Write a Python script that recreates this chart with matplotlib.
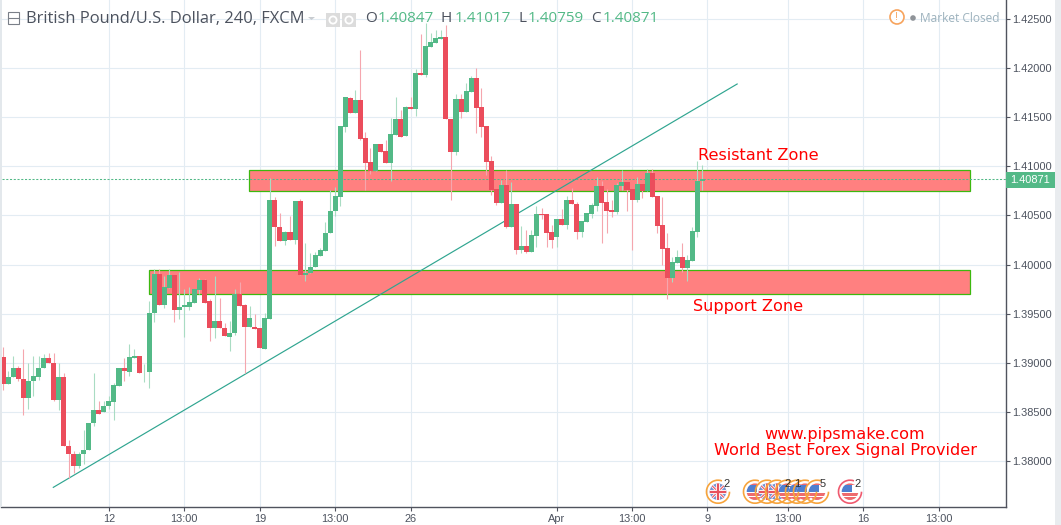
import matplotlib
matplotlib.use("Agg")
import matplotlib.pyplot as plt
from matplotlib.patches import Circle, Rectangle, Arc
import numpy as np

plt.rcParams['font.family'] = ['Liberation Sans', 'DejaVu Sans']

opens = [
    1.39064, 1.38789, 1.38857, 1.38942, 1.38836, 1.38646, 1.38816, 1.38860, 1.38945, 1.39044,
    1.39000, 1.38626, 1.38860, 1.38156, 1.38075, 1.37952, 1.38068, 1.38109, 1.38384, 1.38524,
    1.38503, 1.38558, 1.38605, 1.38768, 1.38942, 1.38911, 1.39044, 1.39074, 1.38904, 1.38904,
    1.39503, 1.39901, 1.39584, 1.39765, 1.39890, 1.39533, 1.39564, 1.39571, 1.39612, 1.39741,
    1.39839, 1.39625, 1.39350, 1.39421, 1.39357, 1.39265, 1.39299, 1.39697, 1.39584, 1.39360,
    1.39360, 1.39350, 1.39142, 1.39450, 1.40662, 1.40380, 1.40237, 1.40336, 1.40254, 1.40649,
    1.39894, 1.39911, 1.39972, 1.40091, 1.40142, 1.40319, 1.40543, 1.40689, 1.41397, 1.41695,
    1.41546, 1.41675, 1.41288, 1.41044, 1.40955, 1.41227, 1.41155, 1.41037, 1.41322, 1.41481,
    1.41308, 1.41603, 1.41586, 1.41949, 1.41932, 1.42218, 1.42255, 1.42299, 1.42316, 1.41478,
    1.41149, 1.41685, 1.41552, 1.41756, 1.41899, 1.41603, 1.41410, 1.41054, 1.40765, 1.40626,
    1.40809, 1.40379, 1.40616, 1.40151, 1.40188, 1.40131, 1.40290, 1.40514, 1.40514, 1.40328,
    1.40280, 1.40463, 1.40402, 1.40657, 1.40613, 1.40331, 1.40433, 1.40514, 1.40599, 1.40799,
    1.40636, 1.40555, 1.40535, 1.40799, 1.40840, 1.40769, 1.40657, 1.40820, 1.40748, 1.40932,
    1.40697, 1.40402, 1.40168, 1.39863, 1.40019, 1.40077, 1.39965, 1.40039, 1.40331, 1.40847,
]
highs = [
    1.39163, 1.38915, 1.39074, 1.38966, 1.39136, 1.39000, 1.39068, 1.39068, 1.39085, 1.39095,
    1.39102, 1.38993, 1.38898, 1.38218, 1.38099, 1.38088, 1.38313, 1.38388, 1.38898, 1.38615,
    1.38615, 1.38660, 1.38796, 1.38942, 1.39050, 1.39187, 1.39136, 1.39074, 1.38983, 1.39629,
    1.39952, 1.39952, 1.39884, 1.39958, 1.39890, 1.39924, 1.39748, 1.39775, 1.39754, 1.39867,
    1.39850, 1.39650, 1.39884, 1.39663, 1.39408, 1.39425, 1.39748, 1.39822, 1.39595, 1.39578,
    1.39493, 1.39350, 1.39510, 1.40883, 1.40689, 1.40526, 1.40346, 1.40492, 1.40649, 1.40672,
    1.40220, 1.40118, 1.40125, 1.40170, 1.40431, 1.40757, 1.40791, 1.41407, 1.41703, 1.41702,
    1.41776, 1.42184, 1.41352, 1.41183, 1.41227, 1.41227, 1.41267, 1.41488, 1.41709, 1.41573,
    1.41614, 1.41709, 1.41990, 1.42346, 1.42455, 1.42353, 1.42387, 1.42387, 1.42438, 1.41478,
    1.41736, 1.41736, 1.41844, 1.41919, 1.41997, 1.41793, 1.41410, 1.41105, 1.40765, 1.40860,
    1.40962, 1.40837, 1.40616, 1.40392, 1.40351, 1.40351, 1.40596, 1.40572, 1.40514, 1.40402,
    1.40463, 1.40562, 1.40697, 1.40775, 1.40640, 1.40443, 1.40524, 1.40623, 1.40887, 1.40854,
    1.40765, 1.40657, 1.40826, 1.40962, 1.40840, 1.40769, 1.40894, 1.40820, 1.40969, 1.40969,
    1.40697, 1.40691, 1.40324, 1.40080, 1.40148, 1.40222, 1.40097, 1.40385, 1.41054, 1.41017,
]
lows = [
    1.38721, 1.38789, 1.38857, 1.38813, 1.38466, 1.38534, 1.38666, 1.38823, 1.38945, 1.38996,
    1.38609, 1.38524, 1.38150, 1.37827, 1.37878, 1.37929, 1.37973, 1.38109, 1.38354, 1.38483,
    1.38503, 1.38530, 1.38415, 1.38768, 1.38813, 1.38864, 1.39044, 1.38901, 1.38802, 1.38748,
    1.39414, 1.39584, 1.39561, 1.39765, 1.39414, 1.39442, 1.39261, 1.39537, 1.39612, 1.39697,
    1.39612, 1.39221, 1.39251, 1.39350, 1.39268, 1.39119, 1.39278, 1.39578, 1.38891, 1.39360,
    1.39343, 1.39146, 1.39136, 1.39450, 1.40186, 1.40237, 1.40203, 1.40254, 1.40213, 1.39894,
    1.39833, 1.39911, 1.39972, 1.40091, 1.40142, 1.40319, 1.40492, 1.40594, 1.41349, 1.41546,
    1.41546, 1.41267, 1.40759, 1.40921, 1.40955, 1.41149, 1.41037, 1.40850, 1.41322, 1.41298,
    1.41308, 1.41586, 1.41512, 1.41932, 1.41905, 1.42218, 1.42255, 1.42299, 1.41478, 1.40657,
    1.41115, 1.41488, 1.41552, 1.41756, 1.41335, 1.41301, 1.40911, 1.40708, 1.40606, 1.40626,
    1.40368, 1.40379, 1.40110, 1.40121, 1.40121, 1.40131, 1.40182, 1.40460, 1.40175, 1.40165,
    1.40182, 1.40402, 1.40358, 1.40613, 1.40263, 1.40284, 1.40433, 1.40470, 1.40545, 1.40216,
    1.40324, 1.40487, 1.40514, 1.40759, 1.40548, 1.40148, 1.40640, 1.40674, 1.40748, 1.40684,
    1.40324, 1.39995, 1.39652, 1.39822, 1.40019, 1.39927, 1.39832, 1.40039, 1.40284, 1.40759,
]
closes = [
    1.38789, 1.38857, 1.38942, 1.38833, 1.38646, 1.38816, 1.38870, 1.38952, 1.39044, 1.38996,
    1.38626, 1.38860, 1.38150, 1.38068, 1.37952, 1.38075, 1.38116, 1.38388, 1.38524, 1.38483,
    1.38564, 1.38615, 1.38775, 1.38942, 1.38915, 1.39054, 1.39074, 1.38901, 1.38908, 1.39510,
    1.39901, 1.39584, 1.39768, 1.39890, 1.39533, 1.39571, 1.39584, 1.39615, 1.39748, 1.39839,
    1.39612, 1.39350, 1.39421, 1.39350, 1.39268, 1.39306, 1.39697, 1.39578, 1.39360, 1.39452,
    1.39343, 1.39146, 1.39459, 1.40662, 1.40380, 1.40237, 1.40336, 1.40254, 1.40649, 1.39894,
    1.39918, 1.39979, 1.40101, 1.40152, 1.40326, 1.40550, 1.40693, 1.41407, 1.41703, 1.41546,
    1.41675, 1.41278, 1.41037, 1.40955, 1.41227, 1.41149, 1.41037, 1.41329, 1.41481, 1.41298,
    1.41603, 1.41586, 1.41946, 1.41932, 1.42224, 1.42262, 1.42306, 1.42316, 1.41478, 1.41149,
    1.41685, 1.41552, 1.41766, 1.41899, 1.41597, 1.41403, 1.41044, 1.40759, 1.40626, 1.40809,
    1.40379, 1.40616, 1.40151, 1.40188, 1.40131, 1.40297, 1.40514, 1.40507, 1.40324, 1.40250,
    1.40463, 1.40402, 1.40657, 1.40613, 1.40334, 1.40443, 1.40524, 1.40606, 1.40799, 1.40630,
    1.40548, 1.40535, 1.40809, 1.40840, 1.40759, 1.40657, 1.40820, 1.40748, 1.40932, 1.40691,
    1.40392, 1.40158, 1.39863, 1.40026, 1.40077, 1.39965, 1.40046, 1.40341, 1.40854, 1.40871,
]

price_ticks = [1.38, 1.385, 1.39, 1.395, 1.40, 1.405, 1.41, 1.415, 1.42, 1.425]
date_ticks = [21, 36, 51, 66, 81, 110, 125, 140, 156, 171, 186]
date_labels = ["12", "13:00", "19", "13:00", "26", "Apr", "13:00", "9", "13:00", "16", "13:00"]

# zones: x from, x to, price low, price high
resistance_zone = [48.9, 192.1, 1.40744, 1.40958]
support_zone = [28.9, 192.1, 1.39697, 1.39941]
trend_x = [9.94, 145.9]
trend_y = [1.37732, 1.41838]
last_price = 1.40871

UP = "#53b987"
DOWN = "#eb4d5c"
W, H = 1061, 525

fig = plt.figure(figsize=(W / 100, H / 100), dpi=100, facecolor="white")
ax = fig.add_axes([1.5 / W, 1 - 507 / H, 1004 / W, 507 / H])

opens_a = np.array(opens)
closes_a = np.array(closes)
x = np.arange(len(opens))
up = closes_a >= opens_a
colors = np.where(up, UP, DOWN)

ax.set_xlim(-0.36, 199.25)
ax.set_ylim(1.37532, 1.42693)

ax.set_axisbelow(True)
ax.grid(True, color="#e3ecf3", lw=0.8)

for z in (resistance_zone, support_zone):
    ax.add_patch(Rectangle((z[0], z[2]), z[1] - z[0], z[3] - z[2], fc="#ff8080",
                           ec="#3cb80e", lw=0.9, zorder=2))

ax.plot(trend_x, trend_y, color="#2fa590", lw=0.85, zorder=3)
ax.axhline(last_price, color=UP, lw=0.75, ls=(0, (2, 1.6)), zorder=3)

wick_colors = np.where(up, "#a9dcc3", "#f5a6ae")
ax.vlines(x, lows, highs, colors=wick_colors, lw=0.8, zorder=4)
heights = np.maximum(np.abs(closes_a - opens_a), 0.00006)
ax.bar(x, heights, bottom=np.minimum(opens_a, closes_a), width=1.0, color=colors, lw=0, zorder=5)

for s in ("top", "left"):
    ax.spines[s].set_visible(False)
for s in ("right", "bottom"):
    ax.spines[s].set_color("#50535e")
    ax.spines[s].set_linewidth(1.0)
ax.yaxis.tick_right()
ax.set_yticks(price_ticks)
ax.set_yticklabels(["%.5f" % p for p in price_ticks])
ax.set_xticks(date_ticks)
ax.set_xticklabels(date_labels)
ax.tick_params(axis="both", length=3, width=0.8, color="#50535e", labelcolor="#4c525e",
               labelsize=7.9, pad=2)

# overlay in pixels for the chart furniture
ov = fig.add_axes([0, 0, 1, 1], zorder=10)
ov.set_xlim(0, W)
ov.set_ylim(H, 0)
ov.axis("off")

ov.add_patch(Rectangle((1055, 0), 6, H, fc="#e9ecef", lw=0))
ov.add_patch(Rectangle((0, 0), 1.5, 507, fc="#e3e8ec", lw=0))
ov.add_patch(Rectangle((1005.5, 172), 49.5, 16, fc=UP, lw=0))
ov.text(1030.5, 180.3, "%.5f" % last_price, color="white", fontsize=7.9, ha="center", va="center")

# legend row
head = "Open Sans"
ov.add_patch(Rectangle((7.5, 12), 11.5, 11.5, fc="white", ec="#7a7f88", lw=0.8))
ov.plot([8, 19], [17.7, 17.7], color="#7a7f88", lw=0.8)
ov.text(26, 19, "British Pound/U.S. Dollar, 240, FXCM", color="#4c525e", fontsize=11.9,
        family=head, ha="left", va="center")
ov.fill([308, 315, 311.5], [17, 17, 20], color="#c8ccd0", lw=0)
for bx in (326, 342):
    ov.add_patch(Rectangle((bx, 13), 14, 14, fc="#dcdcdc", lw=0))
    ov.add_patch(Circle((bx + 7, 20), 3.6, fc="none", ec="white", lw=1.3))
for lab, val, lx, vx in (("O", "1.40847", 365, 378), ("H", "1.41017", 441, 455),
                         ("L", "1.40759", 518, 528), ("C", "1.40871", 591, 603)):
    ov.text(lx, 19, lab, color="#4c525e", fontsize=11, family=head, ha="left", va="center")
    ov.text(vx, 19, val, color=UP, fontsize=11, family=head, ha="left", va="center")

ov.add_patch(Circle((897, 17), 7, fc="white", ec="#f7a35c", lw=1.2))
ov.text(897, 17, "!", color="#f7a35c", fontsize=8, ha="center", va="center")
ov.add_patch(Circle((913, 18), 2.8, fc="#8f9398", lw=0))
ov.text(920, 18, "Market Closed", color="#9db2bd", fontsize=8.6, family=head, ha="left", va="center")

# annotations
red = "#ff0000"
ov.text(698, 155, "Resistant Zone", color=red, fontsize=11.6, family="DejaVu Sans", ha="left", va="center")
ov.text(693, 307, "Support Zone", color=red, fontsize=11.6, family="DejaVu Sans", ha="left", va="center")
ov.text(845, 434, "www.pipsmake.com", color=red, fontsize=11.6, family="DejaVu Sans", ha="center", va="center")
ov.text(845.5, 450, "World Best Forex Signal Provider", color=red, fontsize=11.6, family="DejaVu Sans",
        ha="center", va="center")


def flag(cx, cy, kind, edge):
    clip = Circle((cx, cy), 8.3, transform=ov.transData)
    if kind == "us":
        parts = [Rectangle((cx - 9, cy - 9), 18, 18, fc="white", lw=0),
                 Rectangle((cx - 9, cy + 1), 18, 3, fc="#ee6b6e", lw=0),
                 Rectangle((cx - 9, cy + 5), 18, 4, fc="#ee6b6e", lw=0),
                 Rectangle((cx - 9, cy - 9), 18, 2.5, fc="#ee6b6e", lw=0),
                 Rectangle((cx - 9, cy - 7), 11, 7.5, fc="#4f7fd0", lw=0)]
    else:
        parts = [Rectangle((cx - 9, cy - 9), 18, 18, fc="#6f8fd0", lw=0)]
    for p in parts:
        p.set_zorder(11)
        ov.add_patch(p)
        p.set_clip_path(clip)
    if kind == "uk":
        for dx0, dy0, dx1, dy1, c, w in ((-8, -8, 8, 8, "white", 2), (-8, 8, 8, -8, "white", 2),
                                         (-8, -8, 8, 8, "#e8525e", 0.8), (-8, 8, 8, -8, "#e8525e", 0.8),
                                         (-9, 0, 9, 0, "white", 3), (0, -9, 0, 9, "white", 3),
                                         (-9, 0, 9, 0, "#e8525e", 1.6), (0, -9, 0, 9, "#e8525e", 1.6)):
            ln, = ov.plot([cx + dx0, cx + dx1], [cy + dy0, cy + dy1], color=c, lw=w, zorder=11)
            ln.set_clip_path(clip)
    ov.add_patch(Arc((cx, cy), 23, 23, theta1=0, theta2=290, color=edge, lw=1.2, zorder=12))


flag(718, 491.7, "uk", "#f7a43c")
for fx, kind in zip([755, 767, 777, 787, 797, 805, 817], ["us", "uk", "uk", "us", "us", "us", "us"]):
    flag(fx, 491.7, kind, "#f7a43c")
flag(850, 491.7, "us", "#ef5a6f")
for fx, num in ((727, "2"), (788, "2"), (797, "1"), (823, "5"), (858, "2")):
    ov.text(fx, 484, num, color="#333333", fontsize=8, ha="center", va="center", zorder=13)

fig.savefig("out.png", dpi=100)
